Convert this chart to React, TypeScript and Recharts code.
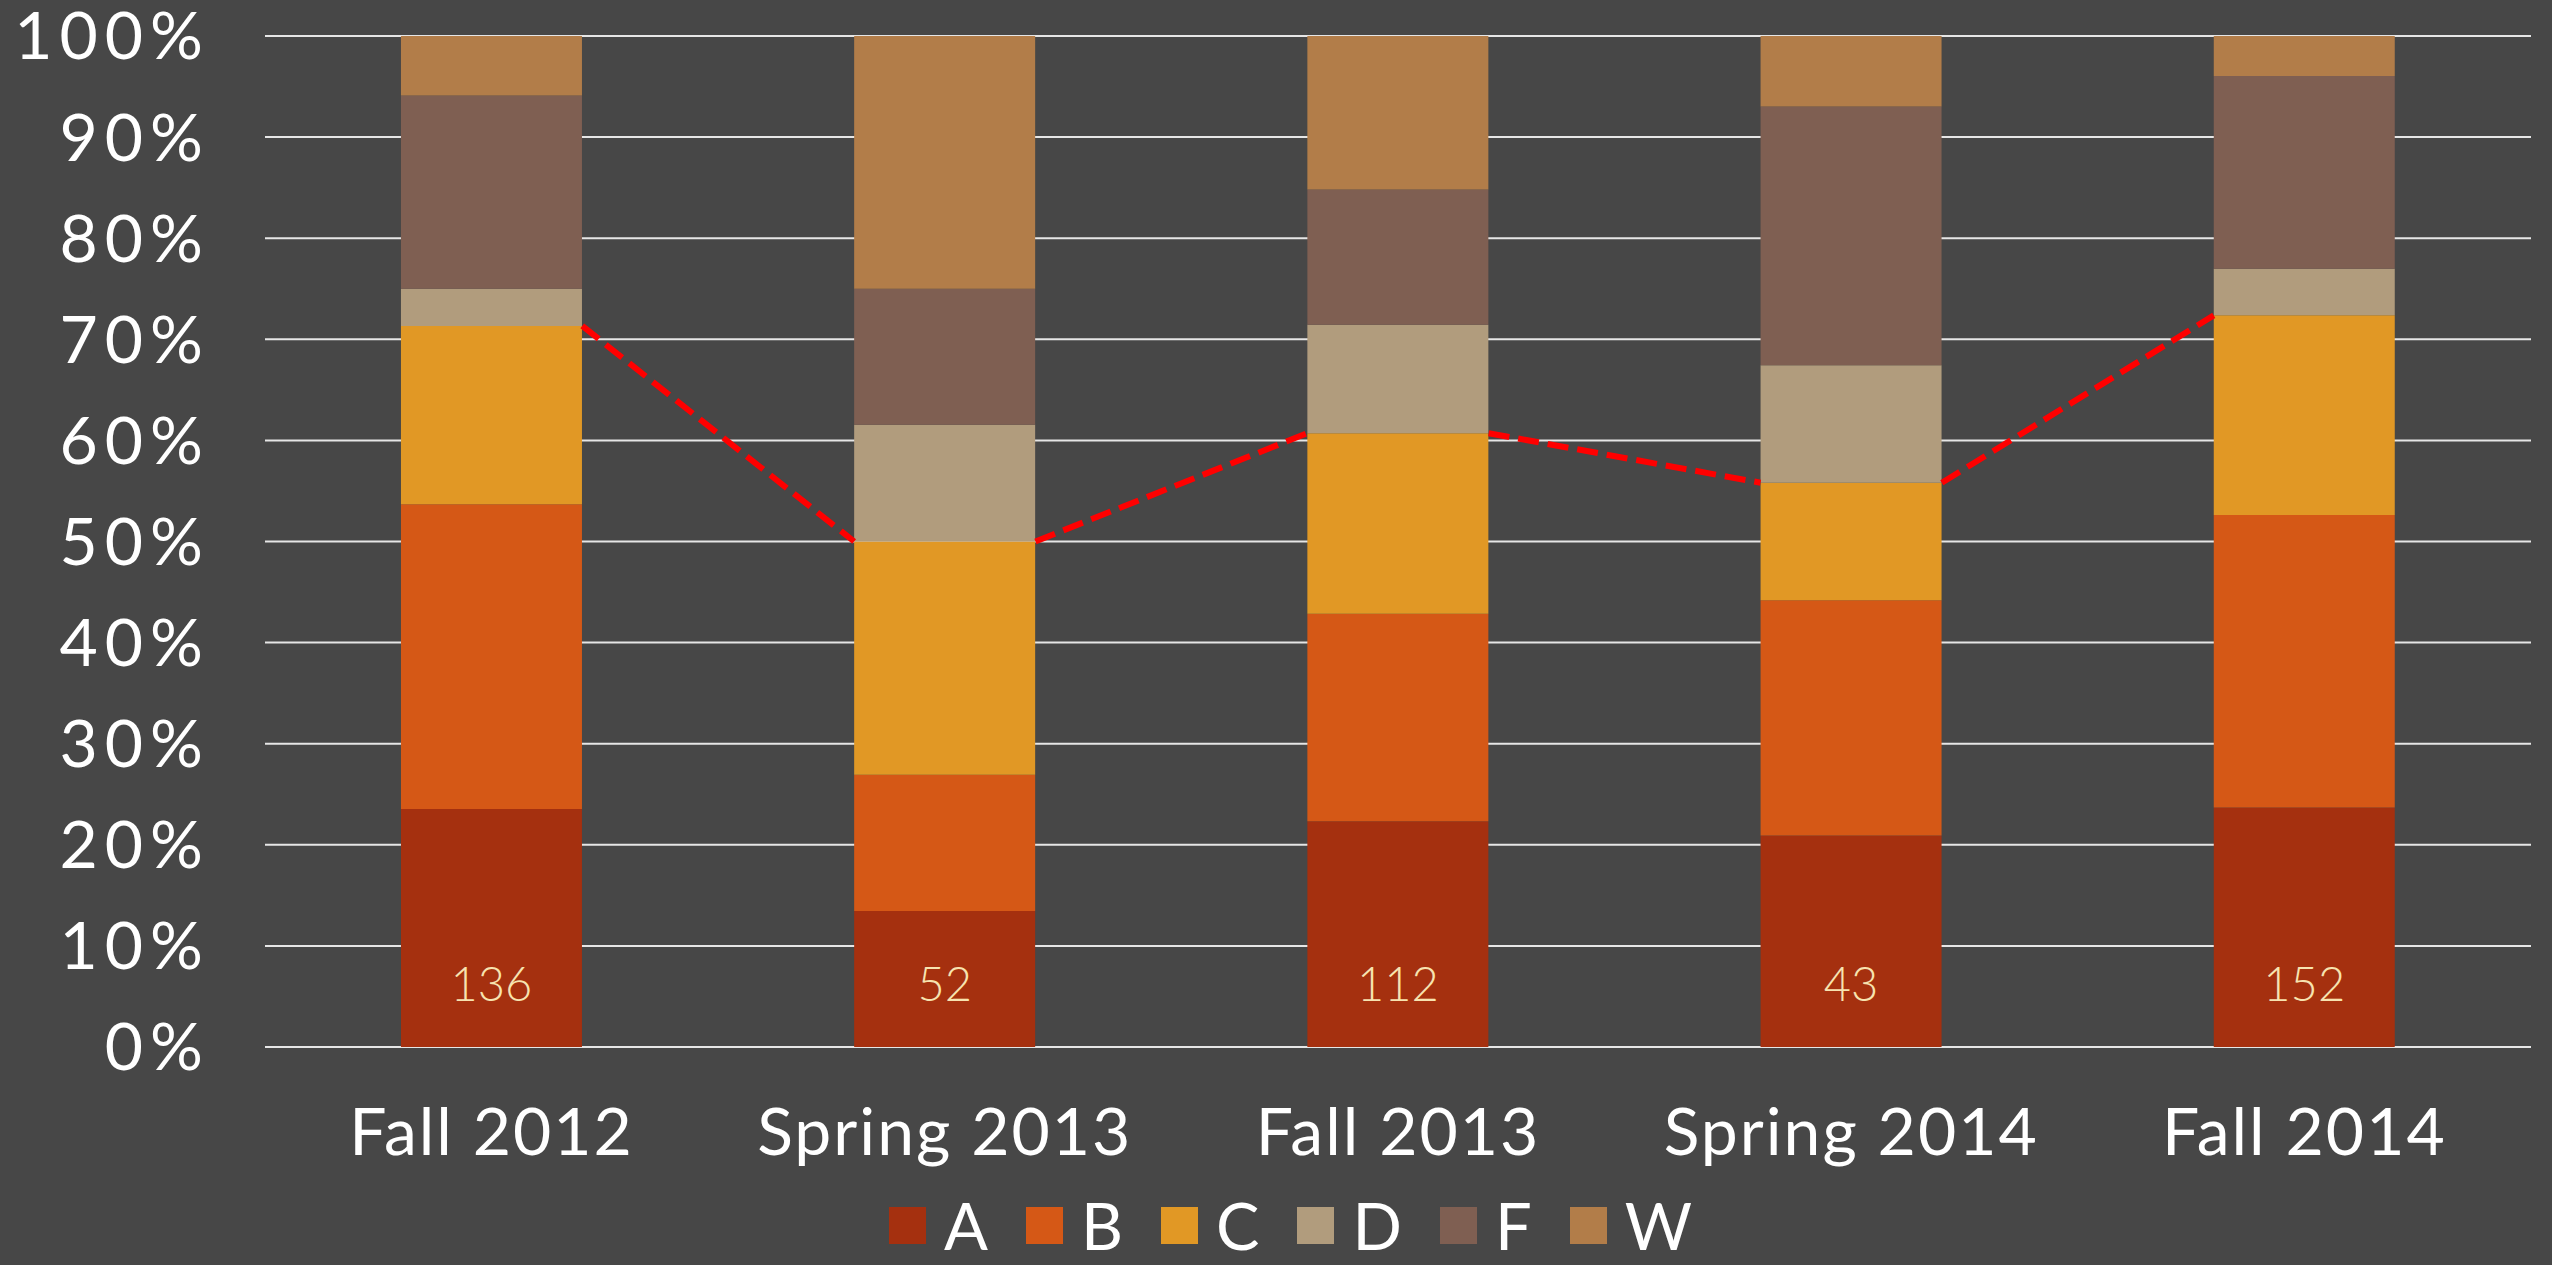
import React from 'react';
import { BarChart, Bar, XAxis, YAxis, CartesianGrid, Legend, LabelList, ReferenceLine } from 'recharts';

const semesters = ['Fall 2012', 'Spring 2013', 'Fall 2013', 'Spring 2014', 'Fall 2014'];

// student counts per grade
const gradeA = [32, 7, 25, 9, 36];
const gradeB = [41, 7, 23, 10, 44];
const gradeC = [24, 12, 20, 5, 30];
const gradeD = [5, 6, 12, 5, 7];
const gradeF = [26, 7, 15, 11, 29];
const gradeW = [8, 13, 17, 3, 6];

const yTicks = [0, 0.1, 0.2, 0.3, 0.4, 0.5, 0.6, 0.7, 0.8, 0.9, 1];

const GRADES = [
  { key: 'A', values: gradeA, color: '#A5300F' },
  { key: 'B', values: gradeB, color: '#D55816' },
  { key: 'C', values: gradeC, color: '#E19825' },
  { key: 'D', values: gradeD, color: '#B19C7D' },
  { key: 'F', values: gradeF, color: '#7F5F52' },
  { key: 'W', values: gradeW, color: '#B27D49' },
];

const data = semesters.map((semester, i) => {
  const row: Record<string, string | number> = { semester, pos: i };
  let total = 0;
  GRADES.forEach((g) => {
    row[g.key] = g.values[i];
    total += g.values[i];
  });
  row.total = total;
  return row;
});

// share of A+B+C, joined bar edge to bar edge
const passShare = semesters.map((_, i) => (gradeA[i] + gradeB[i] + gradeC[i]) / (data[i].total as number));
const HALF_BAR = 0.2;
const segments = passShare.slice(0, -1).map((p, i) => [
  { x: i + HALF_BAR, y: p },
  { x: i + 1 - HALF_BAR, y: passShare[i + 1] },
]);

const FONT = 'Lato, "Open Sans", sans-serif';

const renderTotal = (props: any) => {
  const { x, y, width, height, value } = props;
  return (
    <text
      x={x + width / 2}
      y={y + height - 64}
      textAnchor="middle"
      dominantBaseline="central"
      fill="#F7E3B0"
      fontSize={47}
      fontWeight={300}
      fontFamily={FONT}
    >
      {value}
    </text>
  );
};

const renderLegend = () => (
  <div style={{ display: 'flex', alignItems: 'center', height: 60, paddingLeft: 889, fontFamily: FONT }}>
    {GRADES.map((g) => (
      <div key={g.key} style={{ display: 'flex', alignItems: 'center', marginRight: 38 }}>
        <span style={{ display: 'inline-block', width: 37, height: 37, background: g.color, marginRight: 18 }} />
        <span style={{ display: 'inline-block', height: 60, color: '#fff', fontSize: 65, lineHeight: '60px' }}>{g.key}</span>
      </div>
    ))}
  </div>
);

export default function App() {
  return (
    <div style={{ position: 'absolute', left: 0, top: 0, width: 2552, height: 1265, background: '#474747', fontFamily: FONT }}>
      <BarChart
        width={2552}
        height={1265}
        data={data}
        stackOffset="expand"
        barCategoryGap="30%"
        margin={{ top: 36, right: 21, left: 0, bottom: 0 }}
      >
        <CartesianGrid vertical={false} stroke="#e6e6e6" strokeWidth={2} />
        <XAxis
          dataKey="semester"
          axisLine={false}
          tickLine={false}
          tickSize={0}
          tickMargin={61}
          height={158}
          interval={0}
          tick={{ fill: '#ffffff', fontSize: 66, fontFamily: FONT, letterSpacing: 2 }}
        />
        <XAxis
          xAxisId="pos"
          dataKey="pos"
          type="number"
          scale="linear"
          domain={[-0.5, 4.5]}
          allowDataOverflow
          hide
        />
        <YAxis
          width={265}
          domain={[0, 1]}
          ticks={yTicks}
          interval={0}
          axisLine={false}
          tickLine={false}
          tickSize={0}
          tickMargin={55}
          tickFormatter={(v: number) => `${Math.round(v * 100)}%`}
          tick={{ fill: '#ffffff', fontSize: 66, fontFamily: FONT, letterSpacing: 7 }}
        />
        <Legend verticalAlign="bottom" content={renderLegend} wrapperStyle={{ left: 0, width: 2552, bottom: 10 }} />
        {GRADES.map((g) => (
          <Bar key={g.key} dataKey={g.key} stackId="grades" fill={g.color} isAnimationActive={false}>
            {g.key === 'A' && <LabelList dataKey="total" content={renderTotal} />}
          </Bar>
        ))}
        {segments.map((seg, i) => (
          <ReferenceLine
            key={i}
            xAxisId="pos"
            segment={seg}
            stroke="#FF0000"
            strokeWidth={6}
            strokeDasharray="21 9"
            ifOverflow="visible"
          />
        ))}
      </BarChart>
    </div>
  );
}
